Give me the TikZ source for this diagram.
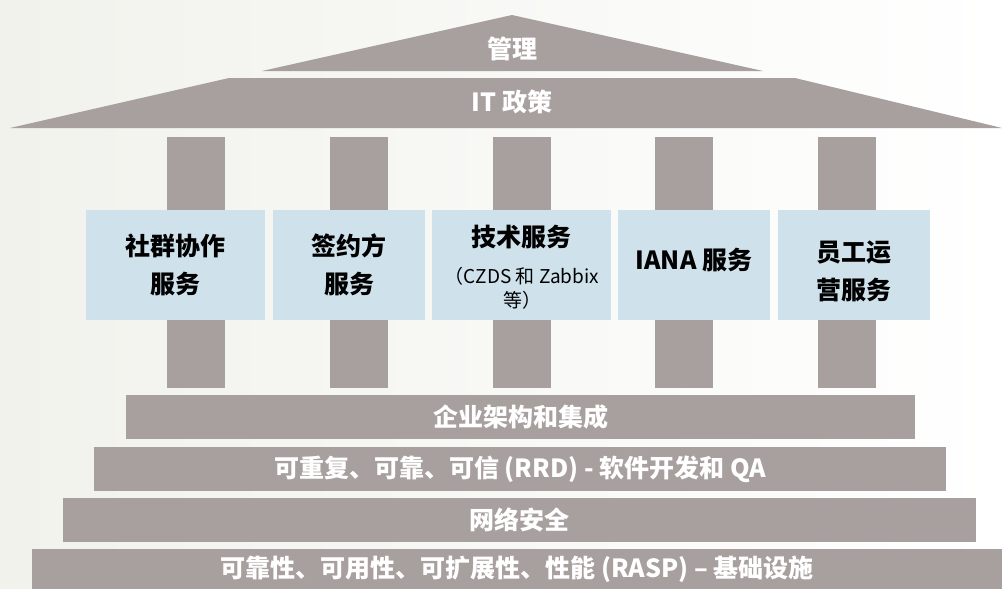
\documentclass[tikz,border=0pt]{standalone}
\usepackage{fontspec}
\setmainfont{Noto Sans CJK SC}
\definecolor{stone}{HTML}{A8A09E}
\definecolor{skyblue}{HTML}{CFE2EC}
\definecolor{paper}{HTML}{F1F2EC}
\tikzset{
  svcbox/.style={fill=skyblue,inner sep=0pt,minimum height=110pt,minimum width=#1,align=center},
  layerbar/.style={fill=stone,inner sep=0pt,minimum height=44pt,minimum width=#1,text=white}
}
\begin{document}
\begin{tikzpicture}[x=1pt,y=-1pt,font=\fontsize{25}{38}\selectfont\bfseries]
	\shade[left color=paper,right color=white] (0,0) rectangle (1002,589);
	\useasboundingbox (0,0) rectangle (1002,589);
	% roof
	\fill[stone] (512,15)--(763,71)--(262,71)--cycle;
	\fill[stone] (229,78)--(795,78)--(1002,128)--(10,128)--cycle;
	\node[text=white] (mgmt) at (512,49) {管理};
	\node[text=white] (itpol) at (512,102) {IT 政策};
	% pillars
	\foreach \x in {167,330,493,655,818}
	\fill[stone] (\x,137) rectangle ++(58,251);
	% services
	\node[svcbox=179pt] (comm) at (175.5,265) {社群协作\\服务};
	\node[svcbox=152pt] (contr) at (349,265) {签约方\\服务};
	\node[svcbox=179pt] (tech) at (521.5,265) {};
	\node (techname) at (521.5,237) {技术服务};
	\node[align=center,font=\fontsize{19}{24}\selectfont] (technote) at (522,288) {（CZDS 和 Zabbix\\等）};
	\node[svcbox=152pt] (iana) at (694,265) {};
	\node (ianatxt) at (694,260) {IANA 服务};
	\node[svcbox=152pt] (staff) at (854,265) {};
	\node[align=center] (stafftxt) at (854,271) {员工运\\营服务};
	% foundation layers
	\node[layerbar=789pt] (ea) at (520.5,417) {企业架构和集成};
	\node[layerbar=852pt] (rrd) at (520,469) {可重复、可靠、可信 (RRD) - 软件开发和 QA};
	\node[layerbar=913pt] (sec) at (519.5,520) {网络安全};
	\node[layerbar=970pt,minimum height=40pt] (rasp) at (517,569) {可靠性、可用性、可扩展性、性能 (RASP) – 基础设施};
\end{tikzpicture}
\end{document}
